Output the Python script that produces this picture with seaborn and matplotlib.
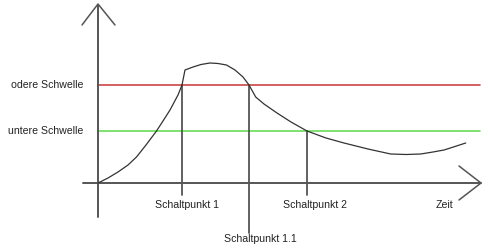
import matplotlib
matplotlib.use("Agg")
import matplotlib.pyplot as plt
import seaborn as sns
import pandas as pd

sns.set_theme(style="white")
plt.rcParams['font.family'] = ['Liberation Sans', 'DejaVu Sans']

# curve (time, value); origin at the axes crossing
zeit = [0, 10, 20, 30, 38.5, 48, 58.5, 65, 72, 80, 84, 87, 95, 103, 112, 120, 128.5, 137, 145, 151, 157.7,
        166, 179, 193, 209, 228, 246, 270, 292.7, 308, 322.7, 335, 346, 357, 367.7]
wert = [0, 5, 11, 18, 26, 38, 52, 62, 73, 88, 98, 113, 116, 118.5, 120, 119.5, 118, 113, 106, 98, 86,
        79, 70, 61, 52, 45, 40, 34, 29, 28.5, 29, 31, 33, 36.5, 40]

schwelle_labels = ["odere Schwelle", "untere Schwelle"]
schwelle_werte = [98, 52]
schwelle_farben = ["#cc4444", "#66dd55"]

punkt_labels = ["Schaltpunkt 1", "Schaltpunkt 1.1", "Schaltpunkt 2"]
punkt_zeiten = [84, 151, 209]
punkt_werte = [98, 98, 52]
punkt_unten = [-12, -50, -12]
label_dx = [5, 11, 8]
label_y = [-22, -56, -22]

df = pd.DataFrame({"Zeit": zeit, "Wert": wert})

fig = plt.figure(figsize=(4.88, 2.5), dpi=100)
ax = fig.add_axes([0, 0, 1, 1])

axis_col = "#555555"
# thresholds
for lab, v, c in zip(schwelle_labels, schwelle_werte, schwelle_farben):
    ax.plot([0, 382], [v, v], color=c, lw=1.2, zorder=2)
    ax.text(-15, v, lab, ha="right", va="center", fontsize=7.6, color="#222222")

# axes with arrows
ax.plot([0, 0], [-34, 178], color=axis_col, lw=1.4, zorder=3)
ax.plot([-16, 0, 17], [158, 179, 158], color=axis_col, lw=1.1, zorder=3)
ax.plot([-15, 383], [0, 0], color=axis_col, lw=1.4, zorder=3)
ax.plot([361, 383, 361], [17, 0, -17], color=axis_col, lw=1.1, zorder=3)
ax.text(346, -22, "Zeit", ha="center", va="center", fontsize=7.6, color="#222222")

# switching points
for lab, t, v, u, dx, ly in zip(punkt_labels, punkt_zeiten, punkt_werte, punkt_unten, label_dx, label_y):
    ax.plot([t, t], [v, u], color=axis_col, lw=1.3, zorder=3)
    ax.text(t + dx, ly, lab, ha="center", va="center", fontsize=7.6, color="#222222")

sns.lineplot(data=df, x="Zeit", y="Wert", sort=False, color="#333333", lw=0.9, ax=ax, zorder=4)
ax.set_xlim(-98, 390)
ax.set_ylim(-67, 183)
ax.axis("off")

fig.savefig("out.png", dpi=100)
